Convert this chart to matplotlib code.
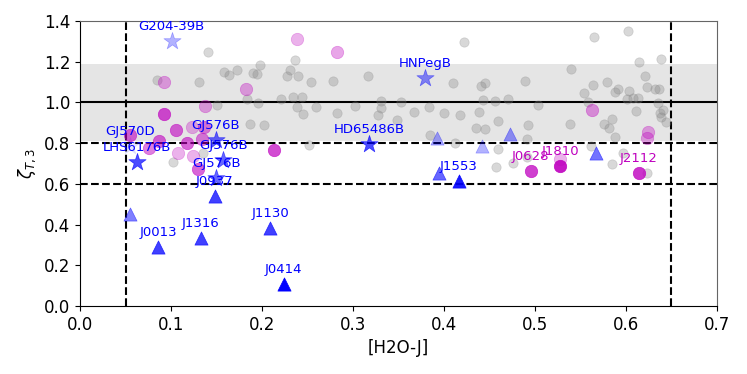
import matplotlib
matplotlib.use("Agg")
import matplotlib.pyplot as plt

# ===== dados =====
# nuvem cinza (amostra de campo)
gray_x = [0.1407, 0.085, 0.1308, 0.158, 0.1637, 0.172, 0.151, 0.1026, 0.1898, 0.194,
          0.198, 0.236, 0.2308, 0.2278, 0.240, 0.2538, 0.1832, 0.196, 0.2205, 0.2337,
          0.2443, 0.2381, 0.259, 0.2447, 0.1868, 0.2022, 0.252, 0.2784, 0.3168, 0.282,
          0.3026, 0.3308, 0.3308, 0.3271, 0.422, 0.4103, 0.4407, 0.4451, 0.489, 0.3527,
          0.3674, 0.384, 0.400, 0.4176, 0.4385, 0.4432, 0.456, 0.4707, 0.5036, 0.348,
          0.3846, 0.412, 0.4348, 0.445, 0.4597, 0.4927, 0.4908, 0.4597, 0.4571, 0.4762,
          0.5615, 0.5843, 0.6227, 0.4908, 0.5652, 0.6026, 0.5392, 0.6143, 0.6385, 0.6209,
          0.5788, 0.5641, 0.5542, 0.5879, 0.5915, 0.6037, 0.6234, 0.6319, 0.6366, 0.6015,
          0.608, 0.6136, 0.5586, 0.6355, 0.641, 0.637, 0.639, 0.644, 0.611, 0.5385,
          0.5843, 0.5758, 0.5813, 0.5879, 0.597, 0.1355]
gray_y = [1.246, 1.110, 1.100, 1.149, 1.133, 1.159, 0.987, 0.709, 1.143, 1.140,
          1.184, 1.208, 1.159, 1.130, 1.130, 1.099, 1.018, 0.996, 1.018, 1.025,
          1.025, 0.976, 0.979, 0.941, 0.892, 0.889, 0.791, 1.107, 1.131, 0.946,
          0.982, 1.008, 0.971, 0.938, 1.298, 1.097, 1.081, 1.097, 1.107, 1.003,
          0.954, 0.979, 0.949, 0.938, 0.954, 1.012, 1.008, 1.018, 0.987, 0.914,
          0.838, 0.802, 0.876, 0.868, 0.910, 0.889, 0.819, 0.770, 0.684, 0.704,
          0.786, 0.697, 0.655, 0.733, 1.323, 1.351, 1.163, 1.200, 1.215, 1.131,
          1.100, 1.084, 1.045, 1.053, 1.064, 1.058, 1.077, 1.064, 1.064, 1.017,
          1.020, 1.020, 1.003, 0.996, 0.963, 0.947, 0.930, 0.905, 0.958, 0.894,
          0.917, 0.892, 0.873, 0.832, 0.753, 0.753]

# circulos magenta sem nome
mag_x = [0.0923, 0.137, 0.0923, 0.1055, 0.1227, 0.1363, 0.055, 0.0868, 0.1172, 0.1337,
         0.0762, 0.108, 0.1245, 0.130, 0.239, 0.1824, 0.213, 0.2828, 0.5623, 0.6245,
         0.6227, 0.5275]
mag_y = [1.102, 0.982, 0.941, 0.864, 0.878, 0.881, 0.840, 0.810, 0.799, 0.819,
         0.774, 0.753, 0.737, 0.671, 1.310, 1.064, 0.766, 1.249, 0.963, 0.853,
         0.824, 0.720]
mag_a = [0.35, 0.35, 0.7, 0.6, 0.3, 0.5, 0.6, 0.6, 0.6, 0.5,
         0.5, 0.3, 0.3, 0.6, 0.3, 0.35, 0.7, 0.35, 0.4, 0.35,
         0.35, 0.3]

# magenta com nome
magl_names = ["J0628", "J1810", "J2112"]
magl_x = [0.4952, 0.5275, 0.614]
magl_y = [0.665, 0.688, 0.652]
magl_a = [0.75, 0.9, 0.8]

# estrelas azuis
star_names = ["G204-39B", "HNPegB", "HD65486B", "GJ570D", "LHS6176B",
              "GJ576B", "GJ576B", "GJ576B"]
star_x = [0.1007, 0.379, 0.318, 0.055, 0.0623, 0.1495, 0.1575, 0.150]
star_y = [1.303, 1.121, 0.794, 0.786, 0.709, 0.815, 0.717, 0.627]
star_a = [0.3, 0.45, 0.7, 0.1, 0.7, 0.6, 0.6, 0.6]

# triangulos azuis
tri_names = ["J0013", "J1316", "J1130", "J0414", "J1553", "J0937",
             "", "", "", "", "", ""]
tri_x = [0.086, 0.1326, 0.2088, 0.224, 0.4165, 0.148,
         0.055, 0.394, 0.392, 0.4418, 0.4725, 0.567]
tri_y = [0.288, 0.332, 0.381, 0.108, 0.614, 0.540,
         0.450, 0.652, 0.824, 0.786, 0.845, 0.750]
tri_a = [0.75, 0.75, 0.75, 1.0, 0.9, 0.75,
         0.5, 0.6, 0.35, 0.3, 0.4, 0.55]

# ===== grafico =====
fig = plt.figure(figsize=(7.47, 3.74), dpi=100)
ax = fig.add_axes([0.1071, 0.1818, 0.8527, 0.7621])

ax.axhspan(0.81, 1.19, color="gray", alpha=0.2, lw=0)
ax.axhline(1.0, color="k", lw=1.5)
ax.axhline(0.8, color="k", ls="--", lw=1.5)
ax.axhline(0.6, color="k", ls="--", lw=1.5)
ax.axvline(0.05, color="k", ls="--", lw=1.5)
ax.axvline(0.65, color="k", ls="--", lw=1.5)

ax.scatter(gray_x, gray_y, s=45, color="gray", alpha=0.3, lw=0.5, zorder=2)

for x, y, a in zip(star_x, star_y, star_a):
    ax.scatter(x, y, s=170, marker="*", color="blue", alpha=a, lw=0.5, zorder=3)

for x, y, a in zip(mag_x, mag_y, mag_a):
    ax.scatter(x, y, s=80, color="m", alpha=a, lw=0.5, zorder=4)

for x, y, a, n in zip(magl_x, magl_y, magl_a, magl_names):
    ax.scatter(x, y, s=80, color="m", alpha=a, lw=0.5, zorder=4)
    ax.annotate(n, (x, y), xytext=(0, 8), textcoords="offset points",
                ha="center", va="baseline", color="m", fontsize=9.5, zorder=6)

for x, y, a, n in zip(star_x, star_y, star_a, star_names):
    ax.annotate(n, (x, y), xytext=(0, 8), textcoords="offset points",
                ha="center", va="baseline", color="blue", fontsize=9.5, zorder=6)

for x, y, a, n in zip(tri_x, tri_y, tri_a, tri_names):
    ax.scatter(x, y, s=90, marker="^", color="blue", alpha=a, lw=0.5, zorder=5)
    if n:
        ax.annotate(n, (x, y), xytext=(0, 8), textcoords="offset points",
                    ha="center", va="baseline", color="blue", fontsize=9.5, zorder=6)

ax.set_xlim(0, 0.7)
ax.set_ylim(0, 1.4)
ax.tick_params(labelsize=12)
ax.set_xlabel("[H2O-J]", fontsize=12)
ax.set_ylabel(r"$\zeta_{T,3}$", fontsize=12)
ax.spines["top"].set_color("#666666")
ax.spines["right"].set_color("#666666")

fig.savefig("out.png", dpi=100)
